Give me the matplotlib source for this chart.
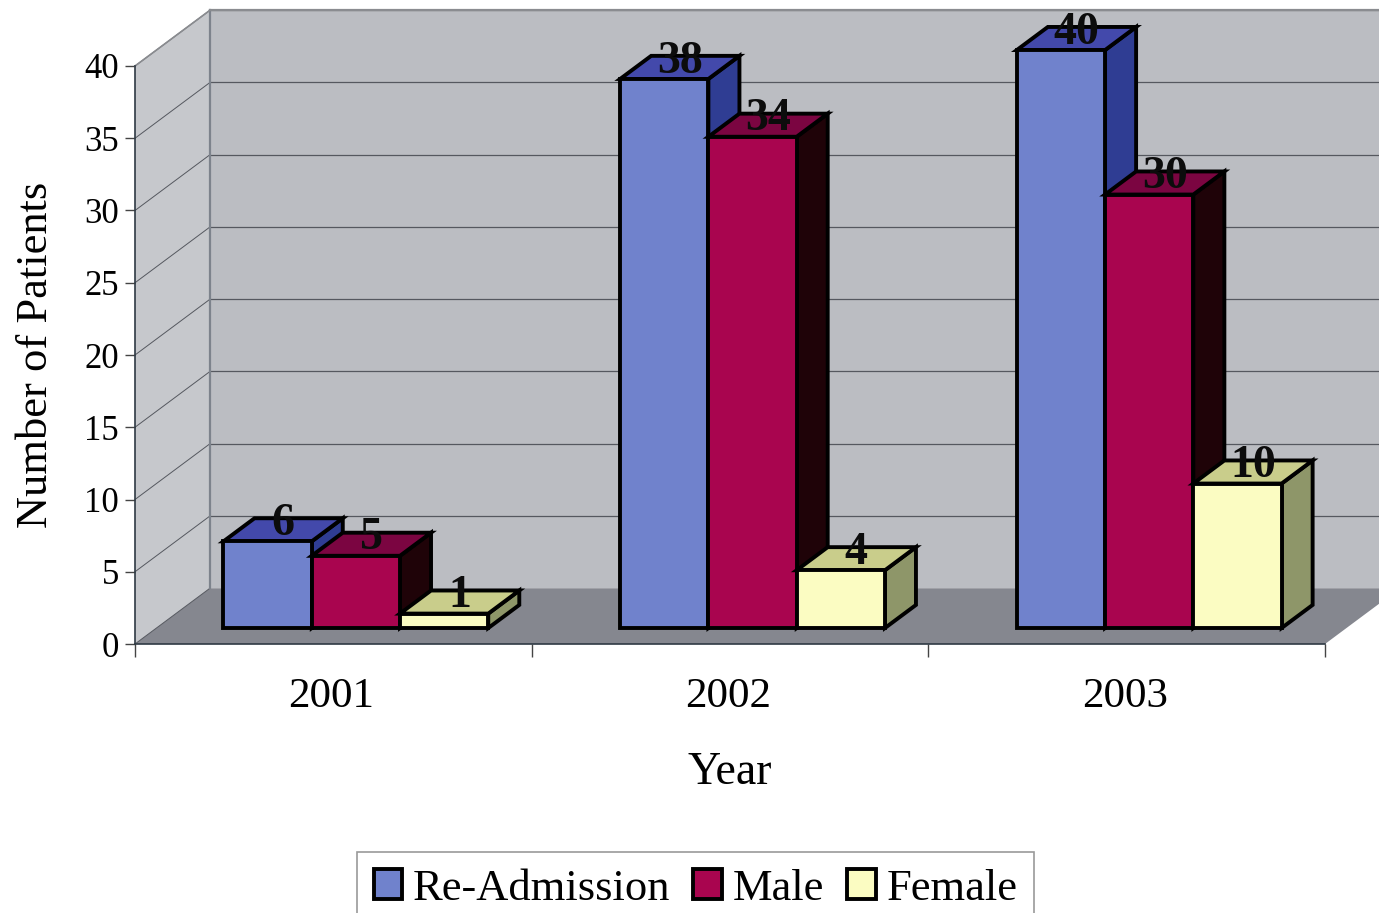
"""Patient counts per year as an old-style 3-D clustered column chart."""

import matplotlib
matplotlib.use("Agg")
import matplotlib.pyplot as plt  # noqa: E402
from matplotlib.patches import Patch, Polygon  # noqa: E402
import numpy as np  # noqa: E402

plt.rcParams["font.family"] = ["Liberation Serif", "DejaVu Serif"]

years = ["2001", "2002", "2003"]
series_names = ["Re-Admission", "Male", "Female"]
readmission = [6, 38, 40]
male = [5, 34, 30]
female = [1, 4, 10]
y_ticks = [0, 5, 10, 15, 20, 25, 30, 35, 40]

# front, top, side shades for each series
shades = [
    ("#7082cc", "#4349ab", "#2f3d93"),
    ("#a9054f", "#7b0541", "#1f0308"),
    ("#fbfcc2", "#c9cd8b", "#8e9669"),
]

W, H = 1379, 913
DX, DY = 0.189, 3.86  # full floor depth, in data units
BAR_W = 0.2225
BAR_START = 0.169
D0, D1 = 0.286, 0.70  # where the columns sit within the floor depth
WALL, SIDE_WALL, FLOOR = "#bbbdc2", "#c6c8cc", "#85878f"


def face(ax, pts, color, edge="none", lw=0, z=1):
    ax.add_patch(Polygon(pts, closed=True, facecolor=color, edgecolor=edge, lw=lw,
                         joinstyle="miter", clip_on=False, zorder=z))


def column(ax, x, v, cols, z):
    x2 = x + BAR_W
    off = lambda d: (d * DX, d * DY)
    (ax0, ay0), (ax1, ay1) = off(D0), off(D1)
    kw = dict(edge="black", lw=2.8, z=z)
    face(ax, [(x2 + ax0, ay0), (x2 + ax1, ay1), (x2 + ax1, v + ay1), (x2 + ax0, v + ay0)], cols[2], **kw)
    face(ax, [(x + ax0, v + ay0), (x + ax1, v + ay1), (x2 + ax1, v + ay1), (x2 + ax0, v + ay0)], cols[1], **kw)
    face(ax, [(x + ax0, ay0), (x2 + ax0, ay0), (x2 + ax0, v + ay0), (x + ax0, v + ay0)], cols[0], **kw)
    ax.text(x + BAR_W / 2 + (ax0 + ax1) / 2, v + ay1 - 0.4, str(v), ha="center", va="center",
            fontsize=33, fontweight="bold", color="#0c0c0c", zorder=50, clip_on=False)


fig = plt.figure(figsize=(W / 100, H / 100), dpi=100)
ax = fig.add_axes([135 / W, (H - 644) / H, 1190 / W, 578 / H])
ax.set_xlim(0, 3)
ax.set_ylim(0, 40)
ax.patch.set_visible(False)

# walls and floor
face(ax, [(DX, DY), (3 + DX, DY), (3 + DX, 40 + DY), (DX, 40 + DY)], WALL)
face(ax, [(0, 0), (DX, DY), (DX, 40 + DY), (0, 40)], SIDE_WALL)
face(ax, [(0, 0), (DX, DY), (3 + DX, DY), (3, 0)], FLOOR)

for t in y_ticks:
    if t:
        ax.plot([DX, 3 + DX], [t + DY, t + DY], color="#55585f", lw=0.9, clip_on=False, zorder=2)
    ax.plot([0, DX], [t, t + DY], color="#55585f", lw=0.7, clip_on=False, zorder=2)
ax.plot([DX, DX], [DY, 40 + DY], color="#7d838c", lw=1.6, clip_on=False, zorder=2)
ax.plot([DX, 3 + DX], [40 + DY, 40 + DY], color="#8a8c90", lw=1.6, clip_on=False, zorder=2)
ax.plot([0, DX], [40, 40 + DY], color="#8a8c90", lw=1.2, clip_on=False, zorder=2)

for g in range(len(years)):
    for s, values in enumerate([readmission, male, female]):
        column(ax, g + BAR_START + s * BAR_W, values[g], shades[s], z=10 + s)

for name in ["top", "right"]:
    ax.spines[name].set_visible(False)
for name in ["left", "bottom"]:
    ax.spines[name].set_color("#2f3a44")
    ax.spines[name].set_linewidth(1.2)
    ax.spines[name].set_zorder(5)

ax.set_yticks(y_ticks)
ax.tick_params(axis="y", labelsize=25, length=7.5, width=1, color="#444444", pad=4)
ax.set_xticks(np.arange(4))
ax.set_xticklabels([])
ax.set_xticks(np.arange(3) + 0.495, labels=years, minor=True)
ax.tick_params(axis="x", which="major", length=9, width=1, color="#444444")
ax.tick_params(axis="x", which="minor", length=0, labelsize=31, pad=24)
ax.set_xlabel("Year", fontsize=33)
ax.xaxis.set_label_coords((730 - 135) / 1190, -(773 - 644) / 578, transform=ax.transAxes)
ax.xaxis.label.set_va("center")
ax.set_ylabel("Number of Patients", fontsize=32)
ax.yaxis.set_label_coords((36 - 135) / 1190, (644 - 355) / 578, transform=ax.transAxes)
ax.yaxis.label.set_va("center")

handles = [Patch(facecolor=c[0], edgecolor="black", lw=2.8) for c in shades]
leg = fig.legend(handles, series_names, loc="upper left", ncol=3, fontsize=32,
                 bbox_to_anchor=(357 / W, (H - 852) / H), borderaxespad=0, frameon=True,
                 fancybox=False, edgecolor="#9a9a9a", framealpha=1, borderpad=0.38,
                 handlelength=0.64, handleheight=0.66, handletextpad=0.24, columnspacing=0.52)
leg.get_frame().set_linewidth(1.2)

fig.savefig("out.png", dpi=100)
